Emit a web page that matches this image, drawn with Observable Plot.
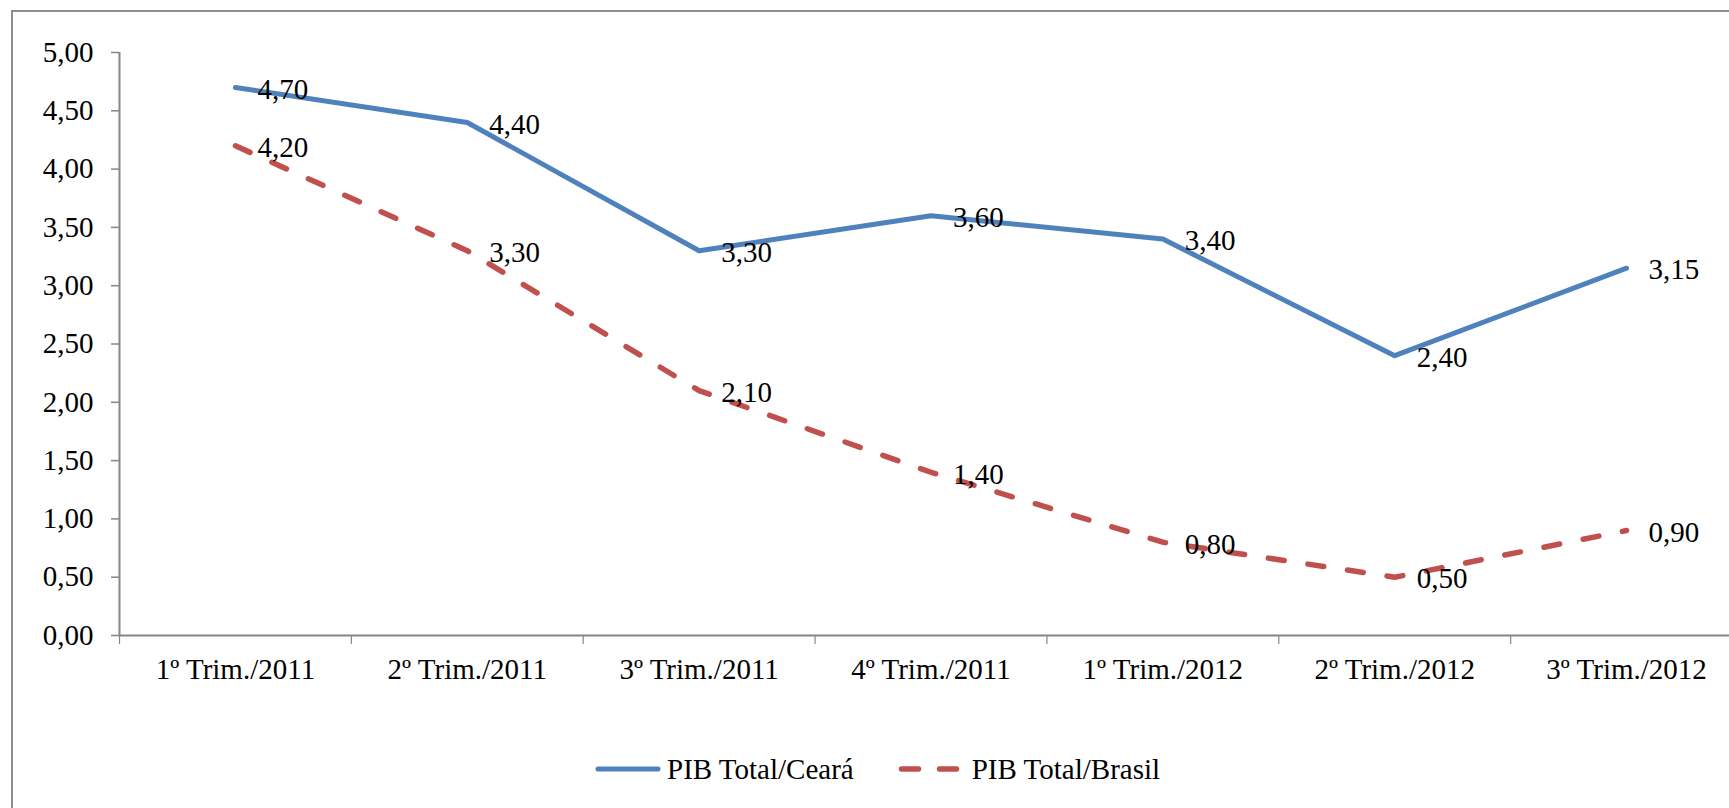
<!DOCTYPE html>
<html>
<head>
<meta charset="utf-8">
<script src="https://cdn.jsdelivr.net/npm/d3@7"></script>
<script src="https://cdn.jsdelivr.net/npm/@observablehq/plot@0.6"></script>
<style>
  html, body { margin: 0; padding: 0; background: #fff; overflow: hidden; width: 1729px; height: 808px; }
  #wrap { position: relative; width: 1729px; height: 808px; font-family: "Liberation Serif", "Times New Roman", serif; }
  #frame { position: absolute; left: 11px; top: 10px; width: 3000px; height: 3000px; border-left: 2px solid #8e8e8e; border-top: 2px solid #8e8e8e; pointer-events: none; }
  #legend { position: absolute; left: 595px; top: 750px; height: 38px; display: flex; align-items: center; font-size: 29px; color: #000; white-space: nowrap; }
  #legend svg { display: block; }
</style>
</head>
<body>
<div id="wrap">
  <div id="chart"></div>
  <div id="legend"></div>
  <div id="frame"></div>
</div>
<script>
const categories = ["1º Trim./2011", "2º Trim./2011", "3º Trim./2011", "4º Trim./2011", "1º Trim./2012", "2º Trim./2012", "3º Trim./2012"];
const pibCeara = [4.70, 4.40, 3.30, 3.60, 3.40, 2.40, 3.15];
const pibBrasil = [4.20, 3.30, 2.10, 1.40, 0.80, 0.50, 0.90];
const seriesNames = ["PIB Total/Ceará", "PIB Total/Brasil"];
const yTicks = [0, 0.5, 1, 1.5, 2, 2.5, 3, 3.5, 4, 4.5, 5];

const blue = "#4F81BD";
const red = "#C0504D";
const gray = "#868686";

const fmt = v => v.toFixed(2).replace(".", ",");
const ceara = pibCeara.map((v, i) => ({i, v, s: seriesNames[0]}));
const brasil = pibBrasil.map((v, i) => ({i, v, s: seriesNames[1]}));
const idx = categories.map((_, i) => i);
const bounds = d3.range(-0.5, categories.length, 1);

const chart = Plot.plot({
  width: 1729,
  height: 720,
  marginLeft: 119,
  marginTop: 52,
  marginBottom: 85,
  marginRight: 0,
  style: {fontFamily: "'Liberation Serif', 'Times New Roman', serif", background: "transparent", overflow: "visible"},
  x: {type: "linear", domain: [-0.5, categories.length - 0.5], range: [119, 1742]},
  y: {domain: [0, 5], range: [635, 52]},
  marks: [
    Plot.axisY({ticks: yTicks, tickFormat: fmt, tickSize: 8, tickPadding: 18, fontSize: 29, stroke: gray, fill: "#000", strokeWidth: 1.5, label: null}),
    Plot.axisX({ticks: bounds, tickFormat: () => "", tickSize: 9, stroke: gray, strokeWidth: 1.2, label: null}),
    Plot.axisX({ticks: idx, tickFormat: i => categories[i], tickSize: 0, tickPadding: 23, fontSize: 29, fill: "#000", label: null}),
    Plot.ruleX([-0.5], {y1: 0, y2: 5, stroke: gray, strokeWidth: 2}),
    Plot.ruleY([0], {stroke: gray, strokeWidth: 2}),
    Plot.line(ceara, {x: "i", y: "v", stroke: blue, strokeWidth: 5, strokeLinecap: "round", strokeLinejoin: "round"}),
    Plot.line(brasil, {x: "i", y: "v", stroke: red, strokeWidth: 5.5, strokeLinecap: "round", strokeLinejoin: "round", strokeDasharray: "16,24"}),
    Plot.text(ceara, {x: "i", y: "v", text: d => fmt(d.v), textAnchor: "start", dx: 22, dy: 2, fontSize: 29, fill: "#000"}),
    Plot.text(brasil, {x: "i", y: "v", text: d => fmt(d.v), textAnchor: "start", dx: 22, dy: 2, fontSize: 29, fill: "#000"})
  ]
});
document.getElementById("chart").appendChild(chart);

// legend
const legend = document.getElementById("legend");
legend.innerHTML = `
  <svg width="66" height="12"><line x1="3" y1="6" x2="63" y2="6" stroke="${blue}" stroke-width="5" stroke-linecap="round"/></svg>
  <span style="margin-left:6px">${seriesNames[0]}</span>
  <svg width="64" height="12" style="margin-left:42px"><line x1="5.5" y1="6" x2="61" y2="6" stroke="${red}" stroke-width="5.5" stroke-linecap="round" stroke-dasharray="17,21"/></svg>
  <span style="margin-left:12px">${seriesNames[1]}</span>`;
</script>
</body>
</html>
